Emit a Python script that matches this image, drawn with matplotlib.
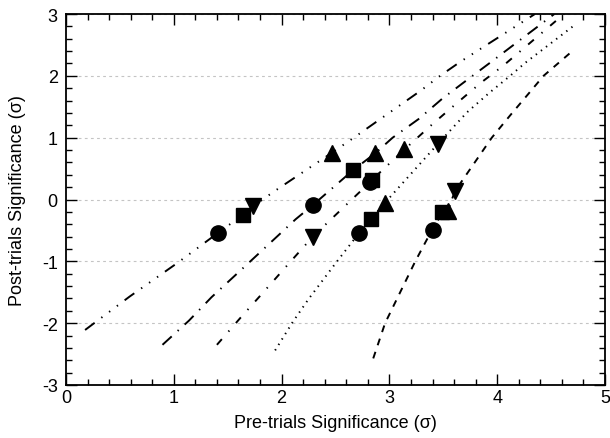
import matplotlib
matplotlib.use("Agg")
import matplotlib.pyplot as plt
from matplotlib.ticker import MultipleLocator
import numpy as np

plt.rcParams['font.family'] = ['Liberation Sans', 'DejaVu Sans']
plt.rcParams['lines.scale_dashes'] = False

# curves: pre-trials vs post-trials significance
pre1 = [0.177, 0.59, 1.03, 1.41, 1.64, 1.735, 1.93, 2.47, 2.67, 3.29, 3.47, 3.66, 4.35]
post1 = [-2.11, -1.57, -1.03, -0.54, -0.25, -0.11, 0.13, 0.76, 1.0, 1.76, 2.0, 2.23, 3.0]

pre2 = [0.895, 1.14, 1.35, 1.71, 2.13, 2.29, 2.66, 2.87, 3.03, 3.27, 3.49, 3.71, 3.94, 4.53]
post2 = [-2.35, -1.96, -1.58, -1.0, -0.32, -0.09, 0.47, 0.75, 1.0, 1.30, 1.63, 1.92, 2.22, 3.0]

pre3 = [1.40, 1.62, 1.80, 2.08, 2.29, 2.82, 2.84, 3.14, 3.40, 3.62, 3.85, 4.06, 4.62]
post3 = [-2.35, -1.91, -1.56, -1.01, -0.60, 0.28, 0.32, 0.81, 1.22, 1.55, 1.89, 2.17, 3.0]

pre4 = [1.94, 2.10, 2.25, 2.51, 2.72, 2.83, 2.955, 3.45, 3.72, 3.93, 4.12, 4.26, 4.71]
post4 = [-2.44, -1.99, -1.61, -1.01, -0.54, -0.32, -0.06, 0.90, 1.41, 1.73, 2.0, 2.21, 2.81]

pre5 = [2.85, 2.96, 3.24, 3.35, 3.40, 3.49, 3.54, 3.61, 3.95, 4.12, 4.29, 4.43, 4.71]
post5 = [-2.57, -2.0, -1.0, -0.64, -0.50, -0.21, -0.18, 0.14, 1.0, 1.36, 1.71, 2.0, 2.42]

# markers
circ_x = [1.41, 2.29, 2.82, 2.72, 3.40]
circ_y = [-0.54, -0.09, 0.28, -0.54, -0.50]
sq_x = [1.64, 2.66, 2.84, 2.83, 3.49]
sq_y = [-0.25, 0.47, 0.32, -0.32, -0.21]
up_x = [2.47, 2.87, 3.14, 2.955, 3.54]
up_y = [0.76, 0.75, 0.81, -0.06, -0.18]
dn_x = [1.735, 2.29, 3.45, 3.61]
dn_y = [-0.11, -0.60, 0.90, 0.14]

fig = plt.figure(figsize=(6.1, 4.39), dpi=100)
ax = fig.add_axes([66 / 610, 53 / 439, 539 / 610, 371 / 439])

lw = 1.4
ax.plot(pre1, post1, color='black', lw=lw, ls=(0, (8.6, 6, 1, 6, 1, 6, 1, 6)), zorder=3)
ax.plot(pre2, post2, color='black', lw=lw, ls=(0, (9, 5.8, 1, 5.8)), zorder=3)
ax.plot(pre3, post3, color='black', lw=lw, ls=(0, (5.4, 7.2, 1, 7.2)), zorder=3)
ax.plot(pre4, post4, color='black', lw=lw, ls=(0, (1, 3.6)), zorder=3)
ax.plot(pre5, post5, color='black', lw=lw, ls=(0, (5, 5)), zorder=3)

ax.plot(up_x, up_y, ls='none', marker='^', ms=11, color='black', zorder=4)
ax.plot(sq_x, sq_y, ls='none', marker='s', ms=10, color='black', zorder=5)
ax.plot(circ_x, circ_y, ls='none', marker='o', ms=11, color='black', zorder=6)
ax.plot(dn_x, dn_y, ls='none', marker='v', ms=11, color='black', zorder=7)

ax.set_xlim(0, 5)
ax.set_ylim(-3, 3)
ax.xaxis.set_major_locator(MultipleLocator(1))
ax.xaxis.set_minor_locator(MultipleLocator(0.2))
ax.yaxis.set_major_locator(MultipleLocator(1))
ax.yaxis.set_minor_locator(MultipleLocator(0.2))
ax.set_yticks([-3, -2, -1, 0, 1, 2, 3])
ax.set_yticklabels(['-3', '-2', '-1', '0', '1', '2', '3'])

ax.yaxis.grid(True, which='major', color='#c4c4c4', ls=(0, (2, 2.4)), lw=0.8)
ax.set_axisbelow(True)

ax.tick_params(which='both', direction='in', top=True, right=True, width=1.0, labelsize=13)
ax.tick_params(which='major', length=8)
ax.tick_params(which='minor', length=4.5)
ax.tick_params(axis='y', pad=6)
ax.tick_params(axis='x', pad=3)
for s in ax.spines.values():
    s.set_linewidth(1.3)

ax.set_xlabel('Pre-trials Significance (σ)', fontsize=13)
ax.set_ylabel('Post-trials Significance (σ)', fontsize=13)
ax.xaxis.set_label_coords(0.5, -0.078)
ax.yaxis.set_label_coords(-0.074, 0.5)

fig.savefig('out.png', dpi=100)
